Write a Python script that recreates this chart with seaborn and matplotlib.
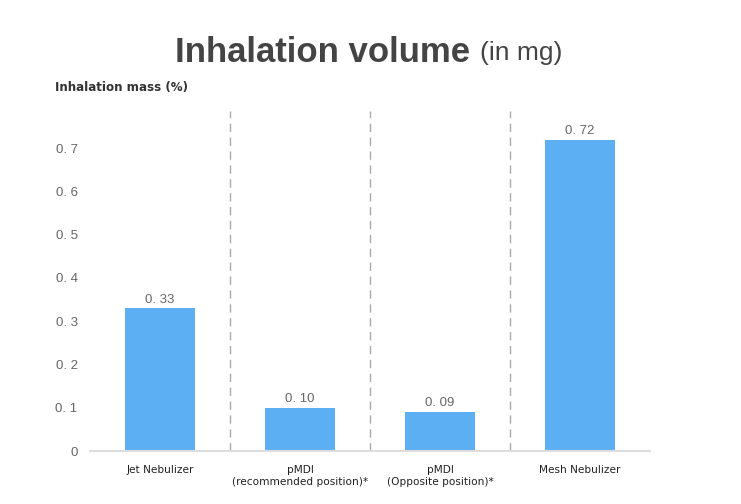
import matplotlib
matplotlib.use("Agg")
import matplotlib.pyplot as plt
import seaborn as sns
import pandas as pd

categories = ["Jet Nebulizer", "pMDI\n(recommended position)*", "pMDI\n(Opposite position)*", "Mesh Nebulizer"]
values = [0.33, 0.10, 0.09, 0.72]
value_labels = ["0. 33", "0. 10", "0. 09", "0. 72"]
yticks = [0, 0.1, 0.2, 0.3, 0.4, 0.5, 0.6, 0.7]
ytick_labels = ["0", "0. 1", "0. 2", "0. 3", "0. 4", "0. 5", "0. 6", "0. 7"]

sns.set_theme(style="white")
plt.rcParams["font.family"] = ["Liberation Sans", "DejaVu Sans"]

df = pd.DataFrame({"cat": categories, "val": values})

fig = plt.figure(figsize=(7.41, 5.04), dpi=100)
ax = fig.add_axes([90/741, 1-451/504, 560/741, (451-105)/504])

sns.barplot(data=df, x="cat", y="val", color="#5BAFF2", width=0.5, ax=ax,
            saturation=1, edgecolor="none")

ax.set_ylim(0, 0.8)
ax.set_xlim(-0.5, 3.5)
ax.set_yticks(yticks)
ax.set_yticklabels(ytick_labels, color="#666666", fontsize=9.5)
ax.set_xlabel("")
ax.set_ylabel("")
ax.tick_params(axis="y", length=0, pad=9)
ax.tick_params(axis="x", length=4, color="#cccccc", width=1, labelcolor="#222222", pad=6, direction="out")
for lbl in ax.get_xticklabels():
    lbl.set_linespacing(1.25)
    lbl.set_fontfamily("DejaVu Sans")
    lbl.set_fontsize(7.6)

for s in ["top", "right", "left"]:
    ax.spines[s].set_visible(False)
ax.spines["bottom"].set_color("#dddddd")
ax.spines["bottom"].set_linewidth(1.5)

for b in [0.5, 1.5, 2.5]:
    ax.axvline(b, ymin=0, ymax=(0.8-0.015)/0.8, color="#aaaaaa", linestyle=(0, (6, 4)), linewidth=1)

for i, (v, t) in enumerate(zip(values, value_labels)):
    ax.text(i, v + 0.006, t, ha="center", va="bottom", fontsize=9.5, color="#666666")

fig.text(470/741, 1-52/504, "Inhalation volume", fontsize=25, fontweight="bold", color="#444444",
         ha="right", va="center")
fig.text(480/741, 1-53/504, "(in mg)", fontsize=19, color="#444444", ha="left", va="center")
fig.text(55/741, 1-88/504, "Inhalation mass (%)", fontsize=8.6, fontweight="bold", color="#333333",
         ha="left", va="center", family="DejaVu Sans")

fig.savefig("out.png", dpi=100)
